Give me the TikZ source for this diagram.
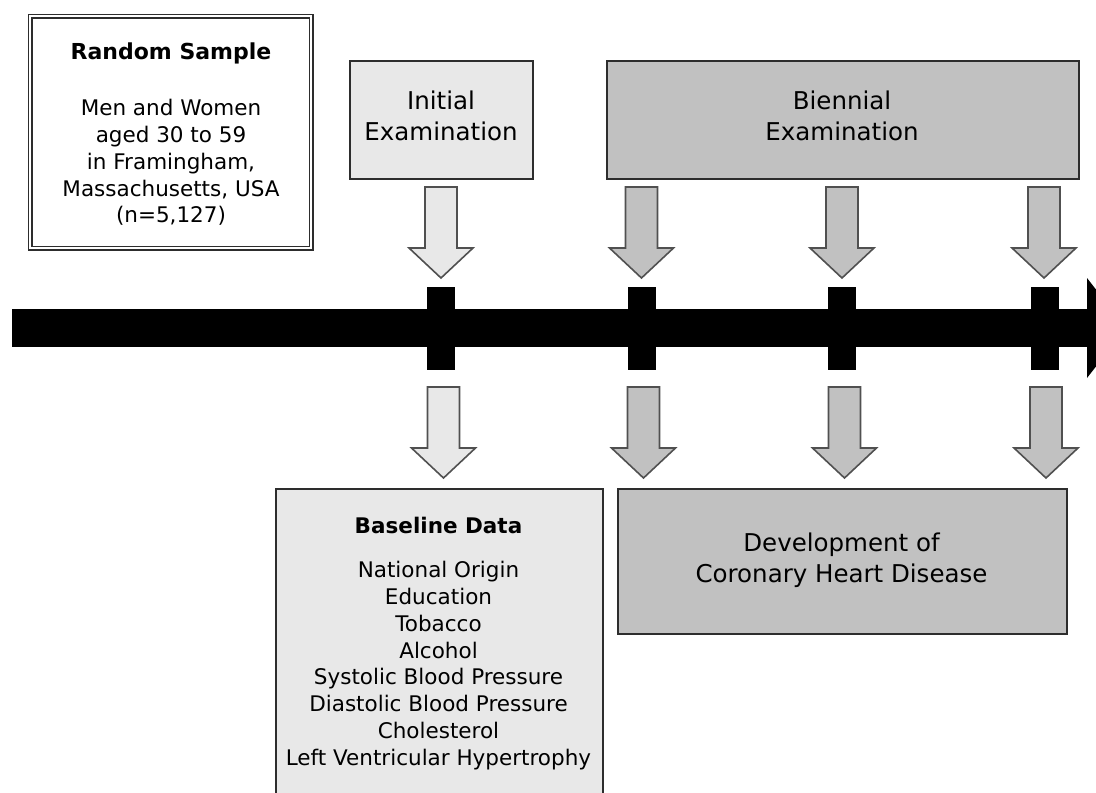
\documentclass[tikz,border=0pt]{standalone}
\usepackage{fontspec}
\setmainfont{DejaVu Sans}
\definecolor{paleGray}{RGB}{232,232,232}
\definecolor{midGray}{RGB}{193,193,193}
\definecolor{edgeGray}{RGB}{45,45,45}
\definecolor{arrowEdge}{RGB}{80,80,80}
% downward block arrow: name, centre x, top y, fill colour
\newcommand\blockarrowat[4]{%
  \coordinate (#1) at (#2,#3);
  \draw[blockarrow, fill=#4, shift={(#1)}]
    (-16,0) -- (16,0) -- (16,61) -- (32,61) -- (0,91) -- (-32,61) -- (-16,61) -- cycle;}
\begin{document}
\begin{tikzpicture}[x=1pt, y=-1pt,
  box/.style={draw=edgeGray, line width=1.8pt, inner sep=0pt, anchor=north west},
  titletext/.style={inner sep=0pt, align=center, font=\fontsize{24.5}{31.5}\selectfont},
  headtext/.style={inner sep=0pt, align=center, font=\bfseries\fontsize{21.5}{26.5}\selectfont},
  bodytext/.style={inner sep=0pt, align=center, anchor=north, font=\fontsize{21.5}{26.85}\selectfont},
  tickmark/.style={fill=black, inner sep=0pt, minimum width=28pt, minimum height=83pt},
  blockarrow/.style={draw=arrowEdge, line width=1.6pt, line join=miter}]
\clip (0,0) rectangle (1096,793);
\fill[white] (0,0) rectangle (1096,793);

% study population
\node[draw=edgeGray, double, double distance=2.4pt, line width=1.3pt, inner sep=0pt,
      minimum width=281pt, minimum height=232pt, anchor=north west] (sample) at (29.5,15.5) {};
\node[headtext, font=\bfseries\fontsize{22}{26.5}\selectfont] (sampletitle) at (171,53) {Random Sample};
\node[bodytext] (samplebody) at (171,99)
  {Men and Women\\aged 30 to 59\\in Framingham,\\Massachusetts, USA\\(n=5,127)};

% examinations
\node[box, fill=paleGray, minimum width=183pt, minimum height=118pt] (initial) at (349,60) {};
\node[titletext] (initialtext) at (441,116) {Initial\\Examination};
\node[box, fill=midGray, minimum width=472pt, minimum height=118pt] (biennial) at (606,60) {};
\node[titletext] (biennialtext) at (842,116) {Biennial\\Examination};

% time axis
\fill (12,309) rectangle (1092,347);
\fill (1087,278) -- (1126,328) -- (1087,378) -- cycle;
\node[tickmark] (t1) at (441,328.5) {};
\node[tickmark] (t2) at (641.5,328.5) {};
\node[tickmark] (t3) at (842,328.5) {};
\node[tickmark] (t4) at (1044.5,328.5) {};

% arrows into the axis
\blockarrowat{a1}{441}{187}{paleGray}
\blockarrowat{a2}{641.5}{187}{midGray}
\blockarrowat{a3}{842}{187}{midGray}
\blockarrowat{a4}{1044}{187}{midGray}

% arrows out of the axis
\blockarrowat{b1}{443.5}{387}{paleGray}
\blockarrowat{b2}{643.5}{387}{midGray}
\blockarrowat{b3}{844.5}{387}{midGray}
\blockarrowat{b4}{1046}{387}{midGray}

% outcomes
\node[box, fill=paleGray, minimum width=327pt, minimum height=330pt] (baseline) at (275,488) {};
\node[headtext] (baselinetitle) at (438.5,525) {Baseline Data};
\node[bodytext] (baselinebody) at (438.5,561)
  {National Origin\\Education\\Tobacco\\Alcohol\\Systolic Blood Pressure\\Diastolic Blood Pressure\\Cholesterol\\Left Ventricular Hypertrophy};
\node[box, fill=midGray, minimum width=449pt, minimum height=145pt] (chd) at (617,488) {};
\node[titletext] (chdtext) at (841.5,560) {Development of\\Coronary Heart Disease};
\end{tikzpicture}
\end{document}
